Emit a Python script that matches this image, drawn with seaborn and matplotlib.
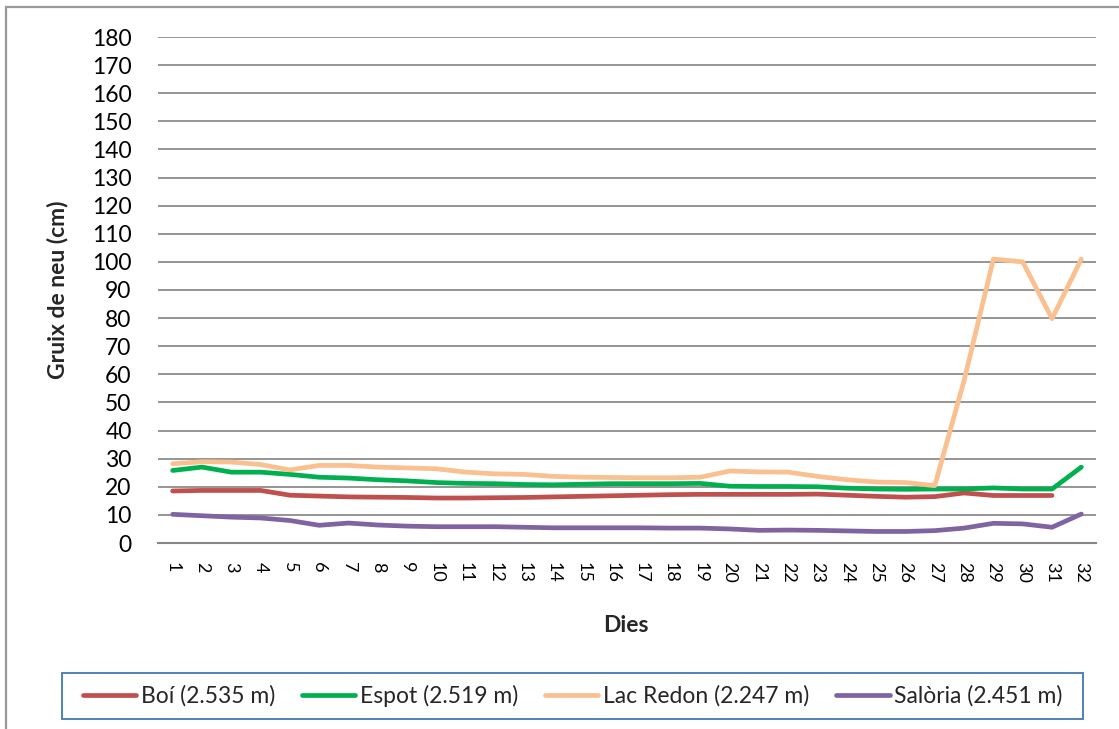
import numpy as np
import pandas as pd
import matplotlib
matplotlib.use("Agg")
import matplotlib.pyplot as plt
import seaborn as sns
from matplotlib.patches import Rectangle

days = list(range(1, 33))
boi = [18.5, 18.7, 18.7, 18.7, 17.0, 16.7, 16.4, 16.3, 16.2, 16.0,
       16.0, 16.1, 16.2, 16.4, 16.6, 16.8, 17.0, 17.2, 17.3, 17.3,
       17.3, 17.3, 17.4, 17.0, 16.6, 16.3, 16.5, 17.8, 16.9, 16.9,
       16.9, np.nan]
espot = [25.8, 27.0, 25.2, 25.2, 24.4, 23.4, 23.1, 22.5, 22.1, 21.5,
         21.2, 21.1, 20.8, 20.7, 20.9, 21.1, 21.1, 21.1, 21.2, 20.2,
         20.1, 20.1, 20.0, 19.5, 19.2, 19.1, 19.2, 19.2, 19.6, 19.2,
         19.2, 27.0]
lac_redon = [28.2, 28.9, 28.8, 27.9, 26.0, 27.6, 27.6, 27.0, 26.7, 26.4,
             25.2, 24.6, 24.4, 23.7, 23.4, 23.3, 23.2, 23.2, 23.4, 25.6,
             25.3, 25.2, 23.7, 22.5, 21.7, 21.5, 20.4, 57.8, 101.0, 100.0,
             79.8, 101.0]
saloria = [10.2, 9.7, 9.2, 8.9, 8.0, 6.3, 7.1, 6.4, 6.0, 5.8,
           5.8, 5.8, 5.6, 5.4, 5.4, 5.4, 5.4, 5.3, 5.3, 5.0,
           4.5, 4.6, 4.5, 4.3, 4.1, 4.1, 4.4, 5.3, 7.0, 6.8,
           5.6, 10.3]
series_names = ["Boí (2.535 m)", "Espot (2.519 m)", "Lac Redon (2.247 m)", "Salòria (2.451 m)"]
colors = ["#C0504D", "#00B050", "#FAC090", "#8064A2"]
y_ticks = list(range(0, 181, 10))

frames = []
for name, vals in zip(series_names, [boi, espot, lac_redon, saloria]):
    frames.append(pd.DataFrame({"Dia": days, "Gruix": vals, "Estació": name}))
df = pd.concat(frames, ignore_index=True)

sns.set_theme(style="white")
plt.rcParams["font.family"] = ["Lato", "DejaVu Sans"]

fig = plt.figure(figsize=(11.19, 7.29), dpi=100)
W, H = 1119, 729
ax = fig.add_axes([158 / W, 1 - 543 / H, (1096 - 158) / W, (543 - 37) / H])

sns.lineplot(data=df, x="Dia", y="Gruix", hue="Estació", palette=colors,
             hue_order=series_names, sort=False, linewidth=3.4, ax=ax,
             legend=False, zorder=3)

ax.set_xlim(0.5, 32.5)
ax.set_ylim(0, 180)
ax.set_yticks(y_ticks)
ax.set_yticklabels([str(v) for v in y_ticks], fontsize=16.5)
ax.set_xticks(days)
ax.set_xticklabels([str(d) for d in days], rotation=-90, fontsize=13)
ax.tick_params(axis="y", length=0, pad=19, colors="black")
ax.tick_params(axis="x", length=0, pad=14, colors="black")
ax.grid(axis="y", color="#8c8c8c", linewidth=1.3, zorder=0)
ax.grid(axis="x", visible=False)
ax.set_axisbelow(True)
for s in ["left", "right", "top"]:
    ax.spines[s].set_visible(False)
ax.spines["bottom"].set_color("#868686")
ax.spines["bottom"].set_linewidth(1.5)
ax.set_xlabel("")
ax.set_ylabel("")

fig.text(58 / W, 1 - 290 / H, "Gruix de neu (cm)", rotation=90, ha="center",
         va="center", fontsize=16.5, fontweight="bold")
fig.text(626 / W, 1 - 625 / H, "Dies", ha="center", va="center",
         fontsize=16.5, fontweight="bold")

# outer chart frame
fig.patches.append(Rectangle((6 / W, -0.05), 1.1, 1 - 7 / H + 0.05,
                             transform=fig.transFigure, fill=False,
                             edgecolor="#999999", linewidth=1.6))
# legend frame
fig.patches.append(Rectangle((62 / W, 1 - 719 / H), (1083 - 62) / W, 46 / H,
                             transform=fig.transFigure, fill=False,
                             edgecolor="#4F81BD", linewidth=1.4))

handles = [plt.Line2D([], [], color=c, linewidth=3.4) for c in colors]
fig.legend(handles, series_names, loc="center",
           bbox_to_anchor=(572.5 / W, 1 - 696 / H), ncol=4, frameon=False,
           fontsize=16.5, handlelength=2.35, handletextpad=0.2,
           columnspacing=1.15)

fig.savefig("out.png", dpi=100)
